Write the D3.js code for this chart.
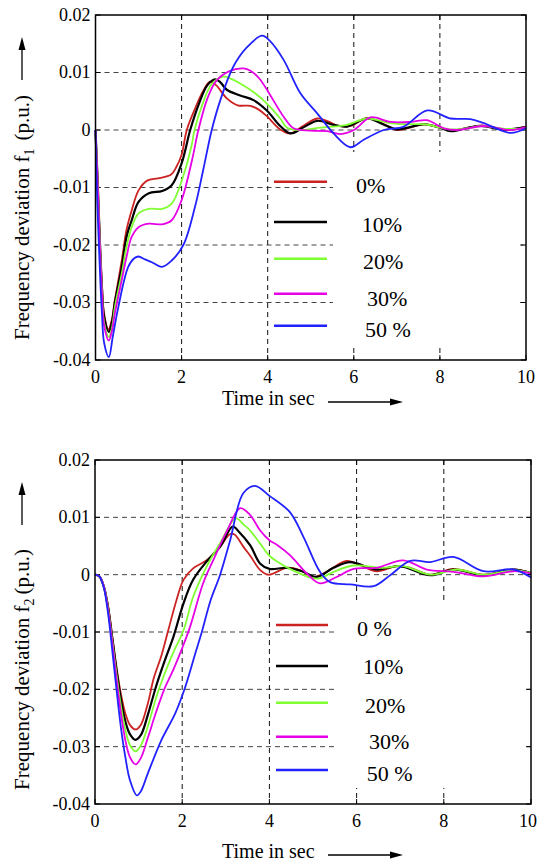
<!DOCTYPE html>
<html lang="en">
<head>
<meta charset="utf-8">
<title>Frequency deviation f1 / f2</title>
<script src="https://d3js.org/d3.v7.min.js"></script>
<style>
  body { margin: 0; background: #fff; }
  svg text { font-family: "Times New Roman", "Liberation Serif", Tinos, "DejaVu Serif", serif; fill: #000; }
</style>
</head>
<body>
<script>
// ---- values ----
const xTicks = [0, 2, 4, 6, 8, 10];
const yTicks = [0.02, 0.01, 0, -0.01, -0.02, -0.03, -0.04];
const yTickLabels = ["0.02", "0.01", "0", "-0.01", "-0.02", "-0.03", "-0.04"];
const gridY = [0.01, 0, -0.01, -0.02, -0.03];
const gridX = [2, 4, 6, 8];
const seriesColors = ["#cc2222", "#000000", "#80ff33", "#e600e6", "#2222ff"];
const legendTop = ["0%", "10%", "20%", "30%", "50 %"];
const legendBottom = ["0 %", "10%", "20%", "30%", "50 %"];

// area 1 frequency deviation, [time s, p.u.]
const f1_0 = [[0,0],[0.05,-0.009],[0.1,-0.019],[0.15,-0.027],[0.2,-0.032],[0.3,-0.0347],[0.38,-0.033],[0.45,-0.0296],[0.61,-0.0227],[0.72,-0.0174],[0.84,-0.014],[1.0,-0.0105],[1.2,-0.0088],[1.45,-0.0084],[1.75,-0.0078],[1.88,-0.0064],[2.0,-0.0043],[2.12,0],[2.3,0.0035],[2.5,0.0068],[2.66,0.0084],[2.8,0.0078],[3.05,0.0055],[3.3,0.0043],[3.6,0.0042],[3.8,0.0035],[3.98,0.0024],[4.29,0.0001],[4.53,-0.0006],[4.8,0.0006],[5.15,0.002],[5.4,0.0015],[5.65,0.0007],[5.92,0.0007],[6.31,0.0021],[6.65,0.0012],[7.0,0],[7.3,0.0004],[7.63,0.001],[8.0,0.0004],[8.25,-0.0001],[8.6,0.0003],[8.95,0.0008],[9.2,0.0005],[9.49,0],[9.75,0.0002],[10,0.0006]];
const f1_10 = [[0,0],[0.05,-0.009],[0.1,-0.019],[0.15,-0.0275],[0.2,-0.0325],[0.31,-0.0351],[0.38,-0.0335],[0.45,-0.03],[0.61,-0.0238],[0.72,-0.0186],[0.84,-0.0157],[1.0,-0.0125],[1.24,-0.011],[1.55,-0.0106],[1.77,-0.0096],[2.0,-0.0058],[2.2,0],[2.4,0.0045],[2.6,0.0078],[2.78,0.0088],[2.9,0.0083],[3.05,0.007],[3.36,0.006],[3.67,0.0052],[3.98,0.0034],[4.29,0.0007],[4.53,-0.0006],[4.84,0.0005],[5.15,0.0016],[5.53,0.0009],[5.84,0.0006],[6.31,0.002],[6.65,0.0011],[7.0,0.0001],[7.3,0.0005],[7.63,0.001],[8.0,0.0004],[8.25,-0.0002],[8.6,0.0003],[8.95,0.0007],[9.49,0.0001],[10,0.0005]];
const f1_20 = [[0,0],[0.05,-0.0095],[0.1,-0.0195],[0.15,-0.028],[0.2,-0.0335],[0.31,-0.036],[0.38,-0.0345],[0.45,-0.0308],[0.61,-0.025],[0.72,-0.0203],[0.84,-0.0169],[1.0,-0.0145],[1.24,-0.0137],[1.55,-0.0137],[1.77,-0.0128],[2.08,-0.007],[2.24,-0.0024],[2.3,0],[2.5,0.0048],[2.7,0.008],[2.97,0.0093],[3.15,0.0089],[3.36,0.0081],[3.67,0.0066],[3.98,0.0046],[4.29,0.002],[4.45,0.0004],[4.76,0],[5.1,0.0003],[5.38,0.0005],[5.84,0.0009],[6.31,0.002],[6.85,0.0012],[7.2,0.001],[7.63,0.001],[8.25,0.0001],[8.6,0.0003],[9.02,0.0007],[9.5,0.0002],[10,0.0003]];
const f1_30 = [[0,0],[0.05,-0.0095],[0.1,-0.02],[0.15,-0.0285],[0.2,-0.034],[0.31,-0.0366],[0.38,-0.035],[0.45,-0.0319],[0.61,-0.0261],[0.72,-0.0221],[0.84,-0.0186],[1.0,-0.0169],[1.24,-0.0163],[1.55,-0.0164],[1.77,-0.0157],[2.0,-0.0122],[2.24,-0.0053],[2.39,0],[2.6,0.0055],[2.8,0.0085],[3.1,0.0102],[3.44,0.0107],[3.6,0.0103],[3.8,0.009],[4.0,0.0068],[4.37,0.0023],[4.6,0.0003],[4.99,-0.0001],[5.38,-0.0002],[5.69,-0.0007],[6.0,0],[6.39,0.0022],[6.85,0.0014],[7.32,0.0014],[7.7,0.0017],[8.09,0.0003],[8.4,0],[9.02,0.0007],[9.64,0],[10,0.0005]];
const f1_50 = [[0,0],[0.04,-0.012],[0.1,-0.024],[0.15,-0.032],[0.2,-0.037],[0.31,-0.0395],[0.4,-0.036],[0.53,-0.0308],[0.76,-0.0238],[0.9,-0.0223],[1.0,-0.022],[1.15,-0.0225],[1.31,-0.023],[1.54,-0.0238],[1.77,-0.0227],[2.04,-0.02],[2.31,-0.0134],[2.5,-0.007],[2.7,0],[2.9,0.0052],[3.2,0.011],[3.52,0.0144],[3.87,0.0164],[4.05,0.0155],[4.37,0.0122],[4.76,0.0064],[5.15,0.0029],[5.53,-0.0006],[5.92,-0.003],[6.23,-0.0017],[6.7,0],[7.16,0.0006],[7.71,0.0034],[8.25,0.002],[8.71,0.0019],[9.02,0.0012],[9.64,-0.0005],[10,0.0003]];

// area 2 frequency deviation, [time s, p.u.]
const f2_0 = [[0,0],[0.1,-0.0003],[0.2,-0.002],[0.3,-0.0055],[0.4,-0.011],[0.5,-0.0165],[0.6,-0.021],[0.7,-0.0243],[0.8,-0.0262],[0.93,-0.027],[1.05,-0.0262],[1.21,-0.0225],[1.35,-0.018],[1.52,-0.0142],[1.68,-0.0097],[1.87,-0.0044],[2.03,-0.0009],[2.25,0.0011],[2.56,0.0025],[2.87,0.0049],[3.1,0.0071],[3.2,0.007],[3.41,0.0048],[3.56,0.0033],[3.79,0.0008],[3.98,0],[4.4,0.0012],[4.7,0.0008],[5.01,-0.0004],[5.31,0.0005],[5.77,0.0024],[6.1,0.0016],[6.46,0.0006],[6.92,0.0015],[7.23,0.0012],[7.69,0],[8.22,0.001],[8.91,0],[9.6,0.0009],[10,0.0002]];
const f2_10 = [[0,0],[0.1,-0.0003],[0.2,-0.002],[0.3,-0.0057],[0.4,-0.0113],[0.5,-0.017],[0.6,-0.022],[0.7,-0.0257],[0.8,-0.0278],[0.93,-0.0288],[1.05,-0.028],[1.21,-0.0245],[1.4,-0.0195],[1.6,-0.015],[1.8,-0.0108],[2.03,-0.005],[2.25,-0.0009],[2.56,0.0023],[2.87,0.0049],[3.16,0.0084],[3.3,0.0075],[3.56,0.0051],[3.79,0.0019],[4.0,0.001],[4.4,0.0012],[4.75,0.0006],[5.09,-0.0004],[5.47,0.0012],[5.85,0.0022],[6.46,0.0009],[7.0,0.0015],[7.69,-0.0001],[8.22,0.0009],[8.91,-0.0001],[9.6,0.0009],[10,0.0003]];
const f2_20 = [[0,0],[0.1,-0.0003],[0.2,-0.002],[0.3,-0.006],[0.4,-0.0118],[0.5,-0.0178],[0.6,-0.0232],[0.7,-0.0272],[0.8,-0.0297],[0.93,-0.0308],[1.05,-0.0298],[1.21,-0.0265],[1.4,-0.0215],[1.6,-0.0172],[1.8,-0.0135],[2.03,-0.0097],[2.25,-0.0039],[2.56,0.0014],[2.87,0.0055],[3.23,0.0098],[3.4,0.0088],[3.56,0.0077],[3.78,0.0055],[4.0,0.0033],[4.2,0.0022],[4.47,0.001],[5.09,-0.0007],[5.47,0.0005],[5.93,0.0016],[6.61,0.0012],[7.07,0.0015],[7.69,0],[8.3,0.0009],[8.91,0],[9.6,0.0008],[10,0.0003]];
const f2_30 = [[0,0],[0.1,-0.0003],[0.2,-0.002],[0.3,-0.0062],[0.4,-0.0122],[0.5,-0.0186],[0.6,-0.0245],[0.7,-0.029],[0.8,-0.0318],[0.93,-0.0331],[1.05,-0.032],[1.21,-0.0285],[1.4,-0.024],[1.6,-0.0198],[1.8,-0.0165],[2.0,-0.0128],[2.18,-0.0091],[2.48,-0.0015],[2.71,0.0025],[3.02,0.0075],[3.33,0.0116],[3.56,0.0104],[3.78,0.0078],[4.0,0.006],[4.17,0.0052],[4.47,0.0034],[4.86,0.0002],[5.16,-0.0015],[5.54,-0.0004],[5.93,0.001],[6.46,0.0012],[7.07,0.0025],[7.61,0.0009],[8.22,0.0005],[8.91,-0.0003],[9.6,0.0006],[10,0.0002]];
const f2_50 = [[0,0],[0.1,-0.0003],[0.2,-0.0022],[0.3,-0.0068],[0.4,-0.0135],[0.5,-0.0205],[0.6,-0.027],[0.7,-0.032],[0.8,-0.0358],[0.96,-0.0385],[1.05,-0.0378],[1.21,-0.0347],[1.52,-0.0289],[1.84,-0.0242],[2.07,-0.0196],[2.31,-0.0135],[2.45,-0.01],[2.65,-0.0045],[2.87,0],[3.1,0.006],[3.4,0.0142],[3.67,0.0155],[4.01,0.0137],[4.47,0.0109],[4.78,0.0066],[5.16,0.0005],[5.39,-0.0013],[5.85,-0.0017],[6.39,-0.002],[6.77,-0.0001],[7.23,0.0024],[7.69,0.0022],[8.22,0.0031],[8.91,0.0006],[9.6,0.0009],[10,-0.0005]];

// ---- layout of the two panels ----
const panels = [
  { series: [f1_0, f1_10, f1_20, f1_30, f1_50], legend: legendTop, sub: "1", gap: 8,
    x0: 95.5, x1: 526, y0: 15, y1: 360,
    box: [333, 152, 520, 345],
    legLine: [274, 327], legY: [181.7, 222, 258.7, 293.7, 325.7],
    legTextX: [356, 361.7, 363, 367, 365], legTextY: [192.7, 231.7, 269.3, 306, 336.7],
    yTitleMid: 217.5, yArrow: [80, 37], xTitleBase: 405 },
  { series: [f2_0, f2_10, f2_20, f2_30, f2_50], legend: legendBottom, sub: "2", gap: 4,
    x0: 95, x1: 531, y0: 460, y1: 804,
    box: [334, 601, 525, 788],
    legLine: [276, 328], legY: [625, 666, 702.7, 736.7, 770],
    legTextX: [357, 363, 365, 369, 366.7], legTextY: [636, 674, 713, 749, 781],
    yTitleMid: 669.5, yArrow: [525, 482], xTitleBase: 858 }
];

const W = 538, H = 861;
const svg = d3.select("body").append("svg")
  .attr("width", W).attr("height", H);

panels.forEach(p => {
  const x = d3.scaleLinear().domain([0, 10]).range([p.x0, p.x1]);
  const y = d3.scaleLinear().domain([-0.04, 0.02]).range([p.y1, p.y0]);
  const g = svg.append("g");

  // dashed grid
  g.selectAll(".gy").data(gridY).enter().append("line")
    .attr("x1", p.x0).attr("x2", p.x1)
    .attr("y1", d => y(d)).attr("y2", d => y(d))
    .attr("stroke", "#444").attr("stroke-width", 1).attr("stroke-dasharray", "5,4");
  g.selectAll(".gx").data(gridX).enter().append("line")
    .attr("x1", d => x(d)).attr("x2", d => x(d))
    .attr("y1", p.y0).attr("y2", p.y1)
    .attr("stroke", "#111").attr("stroke-width", 1).attr("stroke-dasharray", "5,4");

  // white legend patch hiding the grid
  g.append("rect")
    .attr("x", p.box[0]).attr("y", p.box[1])
    .attr("width", p.box[2] - p.box[0]).attr("height", p.box[3] - p.box[1])
    .attr("fill", "#fff");

  // inward ticks on all four sides
  const tk = 5;
  g.selectAll(".tb").data(xTicks).enter().append("line")
    .attr("x1", d => x(d)).attr("x2", d => x(d))
    .attr("y1", p.y1).attr("y2", p.y1 - tk).attr("stroke", "#000");
  g.selectAll(".tt").data(xTicks).enter().append("line")
    .attr("x1", d => x(d)).attr("x2", d => x(d))
    .attr("y1", p.y0).attr("y2", p.y0 + tk).attr("stroke", "#000");
  g.selectAll(".tl").data(yTicks).enter().append("line")
    .attr("x1", p.x0).attr("x2", p.x0 + tk)
    .attr("y1", d => y(d)).attr("y2", d => y(d)).attr("stroke", "#000");
  g.selectAll(".tr").data(yTicks).enter().append("line")
    .attr("x1", p.x1).attr("x2", p.x1 - tk)
    .attr("y1", d => y(d)).attr("y2", d => y(d)).attr("stroke", "#000");

  // curves
  const line = d3.line()
    .x(d => x(d[0])).y(d => y(d[1]))
    .curve(d3.curveCatmullRom.alpha(0.5));
  p.series.forEach((s, i) => {
    g.append("path").datum(s)
      .attr("fill", "none")
      .attr("stroke", seriesColors[i])
      .attr("stroke-width", i === 1 ? 2.2 : 1.8)
      .attr("stroke-linejoin", "round")
      .attr("d", line);
  });

  // frame
  g.append("rect")
    .attr("x", p.x0).attr("y", p.y0)
    .attr("width", p.x1 - p.x0).attr("height", p.y1 - p.y0)
    .attr("fill", "none").attr("stroke", "#000").attr("stroke-width", 1.5);

  // tick labels (last one kept inside the page)
  g.selectAll(".xl").data(xTicks).enter().append("text")
    .attr("x", d => Math.min(x(d), W - 10)).attr("y", p.y1 + 23)
    .attr("text-anchor", "middle").attr("font-size", 18)
    .text(d => d);
  g.selectAll(".yl").data(yTicks).enter().append("text")
    .attr("x", p.x0 - 5).attr("y", d => y(d))
    .attr("dy", "0.33em")
    .attr("text-anchor", "end").attr("font-size", 18)
    .text((d, i) => yTickLabels[i]);

  // legend
  p.legend.forEach((lab, i) => {
    g.append("line")
      .attr("x1", p.legLine[0]).attr("x2", p.legLine[1])
      .attr("y1", p.legY[i]).attr("y2", p.legY[i])
      .attr("stroke", seriesColors[i]).attr("stroke-width", 2.5);
    g.append("text")
      .attr("x", p.legTextX[i]).attr("y", p.legTextY[i])
      .attr("font-size", 22).text(lab);
  });

  // x title with arrow
  g.append("text")
    .attr("x", 222).attr("y", p.xTitleBase)
    .attr("font-size", 20).text("Time in sec");
  const ay = p.xTitleBase - 3;
  g.append("line").attr("x1", 328).attr("x2", 393).attr("y1", ay).attr("y2", ay)
    .attr("stroke", "#000").attr("stroke-width", 1.3);
  g.append("path")
    .attr("d", `M403,${ay} L390,${ay - 3.5} L390,${ay + 3.5} Z`).attr("fill", "#000");

  // y title with arrow
  const yt = g.append("text")
    .attr("transform", `translate(29,${p.yTitleMid}) rotate(-90)`)
    .attr("text-anchor", "middle").attr("font-size", 21);
  yt.append("tspan").text("Frequency deviation f");
  yt.append("tspan").attr("font-size", 14).attr("dy", 5).text(p.sub);
  yt.append("tspan").attr("dy", -5).attr("dx", p.gap).text("(p.u.)");
  g.append("line").attr("x1", 22).attr("x2", 22)
    .attr("y1", p.yArrow[0]).attr("y2", p.yArrow[1] + 10)
    .attr("stroke", "#000").attr("stroke-width", 1.3);
  g.append("path")
    .attr("d", `M22,${p.yArrow[1]} L18.5,${p.yArrow[1] + 13} L25.5,${p.yArrow[1] + 13} Z`)
    .attr("fill", "#000");
});
</script>
</body>
</html>
